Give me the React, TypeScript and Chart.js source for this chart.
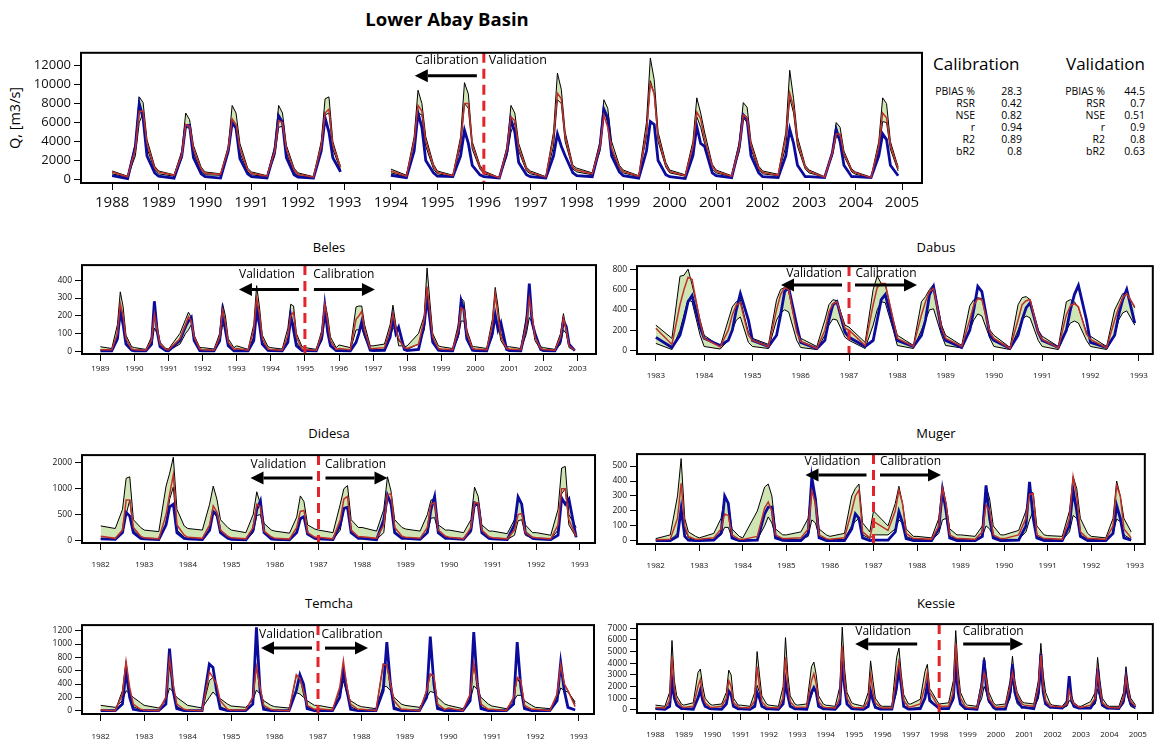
import React, { useEffect, useRef } from "react";
import { Chart, registerables } from "chart.js";
Chart.register(...registerables);

const FONT = "'Open Sans', 'DejaVu Sans', sans-serif";
const GREEN = "#cfe6b4";
const RED = "#c0302b";
const BLUE = "#0b0b9c";
const SPLIT_RED = "#e3242b";

// months sampled in every year (Jan, May, Jul, Aug, Sep, Oct, Dec)
const MONTHS = [1, 5, 7, 8, 9, 10, 12];

// ---------------- Lower Abay Basin ----------------
const TOP_YEARS = [1988, 1989, 1990, 1991, 1992, 1994, 1995, 1996, 1997, 1998, 1999, 2000, 2001, 2002, 2003, 2004];
const TOP_UP = [
  900, 350, 3800, 8700, 8100, 4200, 1400,
  900, 500, 3000, 7000, 6300, 3600, 1300,
  800, 600, 3500, 7800, 7000, 3800, 1200,
  800, 400, 3500, 7800, 7000, 3600, 1200,
  700, 300, 4000, 8500, 8700, 4000, 1300,
  1100, 450, 4500, 9400, 8000, 4500, 1600,
  900, 450, 4500, 10200, 9000, 4000, 1500,
  900, 200, 3500, 7800, 7000, 3800, 1300,
  900, 300, 5000, 11200, 9500, 5000, 1500,
  1200, 700, 4000, 8400, 7500, 4000, 1500,
  1000, 400, 6000, 12800, 10500, 5000, 1800,
  1000, 500, 4000, 8600, 7000, 5000, 1600,
  1000, 400, 4000, 8100, 7600, 4000, 1400,
  900, 550, 5000, 11500, 8500, 4500, 1500,
  1000, 300, 3000, 6000, 5500, 3000, 1100,
  800, 250, 4000, 8600, 8000, 4000, 1300,
];
const TOP_LO = [
  600, 250, 2500, 6000, 7000, 3300, 1000,
  600, 350, 2200, 5500, 5400, 2800, 900,
  500, 450, 2800, 5800, 5500, 2800, 800,
  500, 300, 2500, 5500, 5600, 2800, 800,
  400, 250, 3000, 6800, 7000, 3200, 1000,
  700, 300, 3200, 7000, 6800, 3500, 1100,
  600, 350, 3500, 8000, 7500, 3200, 1100,
  600, 150, 2500, 5000, 6000, 3000, 900,
  600, 250, 3500, 8400, 8000, 4000, 1100,
  800, 500, 3000, 7300, 6000, 3000, 1100,
  700, 300, 4500, 10400, 9000, 4000, 1300,
  700, 350, 3000, 6600, 5500, 3800, 1100,
  700, 300, 3000, 6500, 6000, 3200, 1000,
  600, 400, 3500, 8600, 7000, 3500, 1100,
  700, 250, 2500, 4500, 4300, 2500, 800,
  550, 200, 3000, 6100, 6000, 3200, 900,
];
const TOP_RED = [
  800, 300, 3200, 7200, 7200, 3800, 1200,
  800, 450, 2600, 5800, 5600, 3200, 1100,
  650, 550, 3200, 6400, 5800, 3300, 1000,
  650, 350, 3000, 6200, 6000, 3200, 1000,
  550, 250, 3500, 7000, 7400, 3600, 1300,
  900, 350, 4000, 7800, 7200, 4000, 1400,
  750, 400, 4000, 8000, 8000, 3700, 1300,
  750, 180, 3200, 6600, 6200, 3300, 1100,
  750, 250, 4500, 9100, 8500, 4500, 1300,
  1000, 600, 3500, 6800, 5500, 3300, 1300,
  850, 350, 5000, 10100, 9000, 4500, 1500,
  850, 400, 3500, 7100, 6400, 4300, 1400,
  850, 350, 3500, 6800, 6500, 3600, 1200,
  750, 450, 4500, 9100, 7600, 4000, 1300,
  850, 250, 2800, 4800, 4800, 2700, 950,
  700, 200, 3500, 7000, 6500, 3600, 1100,
];
const TOP_BLUE = [
  400, 100, 3500, 8000, 6500, 2500, 700,
  350, 150, 2500, 5700, 5700, 2300, 600,
  300, 150, 3000, 6000, 5400, 2200, 600,
  300, 150, 3000, 6700, 6000, 2300, 500,
  250, 150, 3000, 6500, 5000, 2300, 800,
  450, 200, 3000, 7000, 5500, 2000, 700,
  350, 300, 2500, 5200, 3800, 1500, 500,
  300, 150, 3000, 6300, 5000, 1800, 500,
  300, 150, 2500, 4800, 3500, 2500, 700,
  400, 300, 3500, 7400, 6500, 2500, 800,
  400, 150, 3000, 6100, 5800, 2000, 500,
  300, 100, 2500, 5600, 3800, 3500, 700,
  400, 200, 3500, 6800, 6300, 2500, 700,
  300, 200, 2500, 5300, 3800, 1500, 300,
  300, 200, 2800, 5300, 4000, 1500, 300,
  300, 200, 2500, 4800, 4200, 1500, 400,
];

// ---------------- Beles ----------------
const BELES_YEARS = [1989, 1990, 1991, 1992, 1993, 1994, 1995, 1996, 1997, 1998, 1999, 2000, 2001, 2002];
const BELES_UP = [
  25, 15, 150, 335, 250, 90, 25,
  20, 10, 80, 275, 140, 50, 15,
  12, 100, 180, 220, 190, 90, 20,
  20, 12, 100, 270, 200, 70, 20,
  30, 10, 150, 370, 250, 90, 25,
  20, 12, 130, 265, 255, 100, 25,
  20, 10, 120, 280, 200, 80, 20,
  35, 20, 250, 255, 255, 150, 30,
  30, 40, 150, 260, 150, 60, 25,
  30, 100, 200, 470, 280, 100, 30,
  25, 15, 150, 300, 280, 120, 25,
  25, 15, 180, 360, 250, 100, 25,
  25, 15, 200, 300, 200, 90, 25,
  20, 10, 100, 212, 130, 40, 10,
];
const BELES_LO = [
  5, 5, 60, 215, 180, 50, 8,
  3, 3, 30, 130, 100, 30, 5,
  3, 40, 100, 120, 150, 60, 5,
  3, 3, 50, 150, 130, 40, 5,
  5, 3, 80, 280, 180, 50, 6,
  5, 3, 60, 150, 160, 50, 6,
  5, 3, 60, 180, 140, 40, 5,
  5, 5, 120, 120, 130, 80, 8,
  8, 10, 80, 130, 130, 30, 30,
  10, 40, 120, 300, 200, 60, 8,
  5, 5, 80, 170, 170, 70, 8,
  5, 5, 80, 190, 150, 60, 8,
  5, 5, 100, 190, 160, 60, 8,
  5, 3, 40, 120, 100, 20, 3,
];
const BELES_RED = [
  8, 8, 100, 268, 200, 70, 12,
  8, 5, 60, 210, 120, 40, 10,
  8, 70, 150, 195, 170, 80, 12,
  8, 5, 80, 230, 160, 50, 10,
  15, 5, 120, 300, 210, 70, 12,
  10, 5, 90, 200, 220, 80, 12,
  10, 5, 100, 265, 170, 60, 10,
  15, 8, 180, 200, 225, 120, 15,
  15, 20, 120, 210, 130, 70, 20,
  15, 40, 180, 365, 220, 80, 15,
  12, 8, 120, 245, 230, 100, 15,
  12, 8, 150, 320, 200, 80, 15,
  12, 8, 150, 300, 200, 80, 15,
  10, 5, 80, 185, 120, 30, 5,
];
const BELES_BLUE = [
  2, 2, 70, 225, 150, 40, 5,
  2, 2, 40, 282, 110, 25, 3,
  2, 60, 140, 170, 190, 60, 3,
  2, 2, 60, 220, 120, 30, 2,
  3, 2, 60, 230, 150, 40, 4,
  3, 2, 50, 200, 120, 30, 3,
  3, 2, 80, 255, 110, 30, 3,
  3, 2, 50, 100, 165, 100, 5,
  3, 5, 80, 190, 100, 135, 10,
  3, 10, 150, 305, 180, 50, 5,
  3, 2, 100, 285, 230, 70, 5,
  3, 2, 100, 205, 120, 160, 10,
  3, 2, 150, 382, 160, 100, 10,
  3, 2, 60, 170, 140, 40, 3,
];

// ---------------- Dabus ----------------
const DABUS_YEARS = [1983, 1984, 1985, 1986, 1987, 1988, 1989, 1990, 1991, 1992];
const DABUS_UP = [
  250, 120, 730, 740, 800, 650, 300,
  150, 40, 300, 430, 480, 500, 180,
  120, 60, 500, 600, 620, 590, 200,
  120, 40, 300, 450, 500, 490, 250,
  230, 80, 600, 730, 660, 650, 300,
  150, 50, 480, 530, 600, 650, 250,
  150, 50, 440, 500, 520, 510, 200,
  150, 30, 450, 520, 530, 500, 200,
  140, 40, 480, 500, 480, 420, 180,
  140, 40, 400, 480, 560, 570, 420,
];
const DABUS_LO = [
  70, 10, 200, 350, 500, 480, 150,
  40, 15, 100, 200, 300, 330, 80,
  40, 20, 300, 370, 400, 380, 100,
  30, 10, 150, 250, 310, 300, 130,
  100, 20, 250, 400, 480, 470, 200,
  50, 20, 200, 300, 400, 410, 150,
  50, 25, 200, 300, 360, 340, 120,
  40, 10, 200, 300, 340, 320, 100,
  40, 10, 200, 270, 290, 270, 100,
  40, 10, 150, 300, 370, 390, 250,
];
const DABUS_RED = [
  220, 60, 450, 600, 720, 700, 280,
  120, 35, 200, 350, 450, 470, 150,
  100, 40, 400, 550, 620, 600, 180,
  90, 20, 200, 380, 460, 480, 220,
  200, 50, 450, 620, 660, 660, 300,
  120, 40, 350, 480, 580, 610, 220,
  120, 40, 300, 450, 510, 500, 180,
  120, 20, 300, 450, 490, 500, 180,
  110, 25, 350, 440, 460, 430, 160,
  110, 25, 300, 420, 520, 560, 430,
];
const DABUS_BLUE = [
  130, 30, 150, 300, 480, 540, 230,
  120, 50, 100, 200, 400, 560, 300,
  100, 40, 150, 350, 580, 620, 250,
  80, 20, 100, 300, 450, 480, 180,
  130, 40, 100, 300, 500, 550, 250,
  100, 40, 150, 300, 550, 630, 200,
  100, 30, 200, 400, 630, 580, 150,
  100, 20, 150, 300, 420, 470, 180,
  100, 30, 200, 400, 550, 640, 300,
  80, 30, 150, 350, 500, 600, 270,
];

// ---------------- Didesa ----------------
const DIDESA_YEARS = [1982, 1983, 1984, 1985, 1986, 1987, 1988, 1989, 1990, 1991, 1992];
const DIDESA_UP = [
  280, 230, 600, 1200, 1230, 400, 250,
  200, 170, 1050, 1300, 1610, 600, 280,
  230, 200, 700, 1050, 800, 400, 250,
  200, 150, 500, 940, 700, 330, 200,
  180, 140, 450, 860, 750, 300, 220,
  200, 150, 700, 1000, 1060, 400, 250,
  250, 180, 600, 1230, 950, 400, 250,
  220, 180, 500, 780, 800, 300, 200,
  200, 150, 400, 1030, 850, 300, 180,
  180, 130, 400, 800, 700, 300, 150,
  150, 100, 600, 1400, 1430, 500, 250,
];
const DIDESA_LO = [
  30, 20, 150, 500, 780, 200, 70,
  30, 20, 300, 800, 1030, 200, 60,
  30, 20, 200, 550, 450, 150, 50,
  30, 15, 150, 480, 500, 150, 50,
  25, 15, 150, 400, 450, 150, 50,
  30, 20, 200, 600, 640, 150, 50,
  40, 20, 150, 850, 700, 150, 60,
  40, 20, 150, 430, 440, 150, 60,
  40, 20, 150, 650, 700, 150, 50,
  30, 20, 100, 380, 400, 100, 40,
  30, 20, 200, 900, 1000, 300, 60,
];
const DIDESA_RED = [
  80, 40, 200, 780, 780, 250, 80,
  50, 30, 500, 900, 1270, 300, 100,
  60, 40, 300, 670, 550, 200, 80,
  50, 30, 250, 700, 650, 180, 70,
  40, 25, 250, 560, 580, 150, 60,
  60, 30, 400, 800, 850, 200, 70,
  70, 40, 300, 880, 900, 250, 80,
  60, 40, 250, 700, 730, 200, 80,
  60, 30, 250, 730, 720, 200, 70,
  50, 30, 200, 500, 520, 150, 60,
  50, 30, 300, 1000, 1000, 400, 80,
];
const DIDESA_BLUE = [
  30, 20, 150, 540, 470, 150, 40,
  30, 15, 300, 650, 700, 150, 40,
  30, 15, 200, 560, 500, 150, 40,
  20, 10, 200, 600, 765, 150, 30,
  20, 10, 150, 420, 460, 120, 40,
  30, 15, 300, 620, 640, 150, 40,
  40, 15, 400, 870, 700, 150, 40,
  40, 20, 150, 600, 850, 150, 40,
  40, 20, 200, 730, 700, 150, 40,
  30, 15, 300, 840, 700, 150, 40,
  30, 15, 100, 820, 700, 800, 60,
];
const DIDESA_YTICKS = [0, 500, 1000, 1500];
const DIDESA_YLABELS = ["0", "500", "1000", "2000"];

// ---------------- Muger ----------------
const MUGER_YEARS = [1982, 1983, 1984, 1985, 1986, 1987, 1988, 1989, 1990, 1991, 1992];
const MUGER_UP = [
  15, 40, 300, 550, 150, 60, 30,
  20, 50, 150, 290, 250, 80, 30,
  20, 200, 360, 380, 300, 80, 40,
  40, 60, 150, 390, 300, 80, 40,
  30, 50, 300, 350, 380, 120, 60,
  200, 100, 250, 365, 250, 80, 30,
  30, 20, 150, 375, 250, 80, 40,
  40, 30, 100, 370, 280, 100, 40,
  40, 70, 200, 330, 320, 100, 40,
  35, 30, 200, 430, 350, 150, 50,
  30, 20, 150, 400, 300, 150, 60,
];
const MUGER_LO = [
  5, 5, 50, 200, 80, 20, 5,
  5, 10, 40, 90, 90, 20, 5,
  5, 10, 100, 160, 120, 30, 10,
  10, 10, 30, 140, 120, 30, 10,
  8, 10, 100, 130, 150, 40, 15,
  40, 40, 80, 140, 120, 30, 10,
  10, 5, 50, 140, 150, 30, 10,
  10, 5, 30, 100, 80, 30, 10,
  10, 10, 60, 140, 200, 30, 10,
  10, 5, 60, 170, 150, 40, 10,
  10, 5, 50, 145, 130, 40, 10,
];
const MUGER_RED = [
  8, 10, 150, 385, 100, 30, 10,
  10, 20, 80, 180, 170, 40, 10,
  10, 30, 220, 260, 200, 40, 15,
  15, 20, 80, 335, 250, 40, 15,
  10, 20, 200, 300, 340, 60, 20,
  130, 70, 200, 340, 250, 50, 15,
  15, 10, 100, 350, 250, 40, 15,
  15, 10, 60, 240, 200, 40, 15,
  15, 40, 150, 310, 315, 40, 15,
  15, 10, 150, 430, 300, 60, 15,
  15, 10, 100, 370, 300, 80, 20,
];
const MUGER_BLUE = [
  2, 2, 30, 215, 30, 5, 2,
  2, 5, 50, 300, 250, 20, 2,
  2, 5, 180, 225, 225, 20, 3,
  2, 2, 50, 425, 280, 20, 2,
  2, 2, 80, 180, 150, 20, 2,
  5, 5, 60, 195, 120, 15, 2,
  2, 2, 80, 340, 200, 20, 2,
  2, 2, 30, 370, 150, 20, 2,
  2, 5, 100, 395, 150, 20, 2,
  2, 2, 100, 340, 200, 30, 2,
  2, 2, 50, 235, 150, 20, 5,
];

// ---------------- Temcha ----------------
const TEMCHA_YEARS = [1982, 1983, 1984, 1985, 1986, 1987, 1988, 1989, 1990, 1991, 1992];
const TEMCHA_UP = [
  80, 50, 150, 300, 250, 200, 120,
  80, 40, 150, 340, 280, 200, 120,
  80, 40, 200, 280, 220, 180, 100,
  70, 50, 150, 310, 250, 150, 80,
  60, 40, 270, 250, 200, 150, 80,
  80, 40, 200, 450, 250, 150, 80,
  60, 30, 370, 360, 300, 200, 100,
  80, 50, 200, 290, 270, 200, 100,
  80, 30, 150, 370, 320, 200, 100,
  70, 30, 150, 230, 230, 150, 80,
  50, 30, 150, 340, 300, 280, 130,
];
const TEMCHA_LO = [
  5, 0, 300, 740, 300, 60, 10,
  5, 0, 200, 700, 300, 60, 10,
  5, 0, 450, 500, 350, 60, 10,
  5, 5, 200, 660, 300, 50, 10,
  5, 0, 520, 500, 250, 60, 10,
  10, 5, 300, 700, 300, 60, 10,
  5, 0, 700, 700, 350, 60, 10,
  10, 0, 300, 550, 500, 60, 10,
  10, 0, 200, 700, 350, 60, 10,
  10, 0, 200, 480, 400, 50, 10,
  5, 0, 200, 650, 400, 300, 100,
];
const TEMCHA_RED = [
  10, 0, 250, 740, 350, 100, 20,
  10, 0, 200, 780, 400, 100, 20,
  10, 0, 580, 500, 400, 150, 20,
  10, 10, 200, 660, 350, 80, 20,
  10, 0, 540, 480, 300, 80, 20,
  30, 10, 350, 750, 350, 100, 20,
  20, 0, 700, 680, 400, 150, 20,
  20, 0, 300, 550, 520, 100, 20,
  40, 0, 250, 720, 400, 100, 20,
  20, 0, 200, 500, 450, 80, 20,
  20, 0, 250, 690, 400, 300, 60,
];
const TEMCHA_BLUE = [
  0, 0, 100, 600, 200, 20, 0,
  0, 0, 100, 930, 300, 30, 0,
  0, 0, 700, 650, 300, 30, 0,
  0, 0, 100, 1250, 300, 20, 0,
  0, 0, 300, 540, 400, 30, 0,
  0, 0, 200, 600, 300, 20, 0,
  0, 0, 300, 1030, 400, 30, 0,
  0, 0, 200, 1110, 400, 30, 0,
  0, 0, 150, 1180, 400, 30, 0,
  0, 0, 100, 1030, 350, 30, 0,
  0, 0, 150, 720, 300, 50, 10,
];

// ---------------- Kessie ----------------
const KESSIE_YEARS = [1988, 1989, 1990, 1991, 1992, 1993, 1994, 1995, 1996, 1997, 1998, 1999, 2000, 2001, 2002, 2003, 2004];
const KESSIE_UP = [
  400, 300, 1500, 5950, 2500, 1200, 500,
  400, 600, 3200, 3500, 2000, 1000, 500,
  400, 500, 1500, 3400, 3000, 1000, 400,
  400, 300, 1500, 5000, 3000, 1200, 500,
  400, 300, 2000, 6200, 3000, 1200, 500,
  400, 500, 3700, 4100, 3000, 1200, 500,
  400, 300, 2000, 7100, 3500, 1500, 600,
  500, 300, 1500, 4200, 2500, 1000, 400,
  300, 300, 4500, 5300, 3000, 1300, 500,
  500, 900, 3300, 3900, 1800, 1500, 800,
  500, 600, 2500, 6800, 3500, 1500, 600,
  400, 300, 2500, 4500, 3000, 1500, 600,
  400, 500, 2500, 4600, 2500, 1500, 700,
  600, 500, 2500, 5700, 3000, 1500, 500,
  400, 300, 800, 1800, 1200, 600, 300,
  300, 700, 1500, 4500, 2500, 1000, 400,
  300, 300, 1500, 3700, 2000, 1000, 400,
];
const KESSIE_LO = [
  100, 50, 300, 2500, 1200, 500, 150,
  100, 100, 1000, 1500, 800, 300, 100,
  100, 100, 500, 1500, 1200, 300, 100,
  100, 50, 400, 2100, 1500, 400, 100,
  100, 50, 500, 2500, 1500, 400, 100,
  100, 100, 1200, 1800, 1500, 400, 100,
  100, 50, 500, 4000, 2000, 500, 150,
  100, 50, 300, 1500, 1000, 300, 100,
  100, 50, 1500, 3300, 2000, 400, 100,
  100, 200, 1000, 2000, 1000, 700, 200,
  100, 100, 800, 4500, 2000, 500, 150,
  100, 50, 1000, 2000, 1500, 600, 200,
  100, 100, 1000, 2500, 1500, 500, 200,
  200, 150, 1000, 3000, 1500, 500, 200,
  200, 200, 300, 800, 600, 300, 200,
  100, 200, 500, 1800, 1000, 300, 100,
  100, 100, 500, 1700, 1000, 300, 100,
];
const KESSIE_RED = [
  200, 150, 800, 4500, 1800, 800, 300,
  200, 300, 2000, 2600, 1200, 600, 250,
  200, 300, 1000, 2500, 2000, 600, 250,
  200, 150, 800, 3700, 2000, 700, 250,
  200, 150, 1000, 4500, 2000, 700, 250,
  200, 250, 2500, 3100, 2200, 700, 250,
  200, 150, 1000, 5500, 2500, 1000, 300,
  200, 150, 800, 3000, 1500, 600, 250,
  150, 150, 3000, 4100, 2500, 800, 250,
  250, 500, 2000, 3200, 1500, 1200, 500,
  300, 300, 1500, 5700, 2500, 1000, 300,
  200, 150, 2000, 3200, 2500, 1000, 400,
  200, 300, 2000, 3200, 2200, 1200, 500,
  400, 300, 2000, 4700, 2000, 800, 300,
  300, 250, 500, 1700, 900, 500, 250,
  200, 400, 1000, 3300, 1800, 600, 250,
  200, 150, 1000, 2800, 1500, 700, 300,
];
const KESSIE_BLUE = [
  100, 50, 300, 2500, 1000, 400, 100,
  100, 50, 1000, 1700, 800, 300, 100,
  80, 50, 500, 1600, 1300, 300, 80,
  80, 50, 300, 1500, 1000, 300, 80,
  80, 50, 500, 2400, 1200, 300, 80,
  80, 50, 1500, 1900, 1500, 300, 80,
  80, 50, 500, 4200, 2000, 500, 100,
  80, 50, 300, 1600, 800, 200, 50,
  50, 50, 2000, 3600, 2000, 300, 50,
  50, 100, 1000, 2200, 800, 600, 300,
  100, 100, 1000, 4000, 1500, 500, 100,
  100, 50, 2000, 4300, 1800, 800, 200,
  50, 50, 1500, 3900, 1500, 800, 200,
  200, 100, 1500, 4800, 1500, 500, 200,
  200, 150, 500, 2900, 800, 300, 150,
  150, 150, 800, 3500, 1500, 400, 150,
  150, 100, 800, 2700, 1200, 500, 200,
];
const KESSIE_YLABELS = ["0", "1000", "2000", "3000", "4000", "5000", "6000", "7000"];

// ---------------- statistics ----------------
const STAT_NAMES = ["PBIAS %", "RSR", "NSE", "r", "R2", "bR2"];
const CAL_VALUES = ["28.3", "0.42", "0.82", "0.94", "0.89", "0.8"];
const VAL_VALUES = ["44.5", "0.7", "0.51", "0.9", "0.8", "0.63"];

const range = (a: number, b: number, s = 1) => {
  const out: number[] = [];
  for (let v = a; v <= b + 1e-9; v += s) out.push(v);
  return out;
};

function series(years: number[], vals: number[]) {
  const pts: { x: number; y: number | null }[] = [];
  years.forEach((yr, i) => {
    if (i > 0 && yr !== years[i - 1] + 1) pts.push({ x: years[i - 1] + 1, y: null });
    MONTHS.forEach((m, j) => pts.push({ x: yr + (m - 1) / 12, y: vals[i * MONTHS.length + j] }));
  });
  return pts;
}

type Ann = {
  split: number;
  texts: { t: string; dx: number; dy: number; align?: CanvasTextAlign }[];
  arrows: { x1: number; x2: number; dy: number }[];
  textSize: number;
};

type Panel = {
  key: string;
  box: [number, number, number, number]; // left, top, width, height of plot box
  axisW: number;
  axisH: number;
  xMin: number; xMax: number; yMin: number; yMax: number;
  xTicks: number[]; yTicks: number[]; yLabels?: string[];
  xFont: number; yFont: number; xPad: number;
  years: number[]; up: number[]; lo: number[]; red: number[]; blue: number[];
  ann: Ann;
};

const stdArrows = (l1: number, l2: number, r1: number, r2: number, dy: number) => [
  { x1: l1, x2: l2, dy },
  { x1: r1, x2: r2, dy },
];

const PANELS: Panel[] = [
  {
    key: "top", box: [81, 44, 841, 139], axisW: 81, axisH: 30,
    xMin: 1987.33, xMax: 2005.43, yMin: -365, yMax: 13341,
    xTicks: range(1988, 2005), yTicks: range(0, 12000, 2000), xFont: 15, yFont: 13, xPad: 4,
    years: TOP_YEARS, up: TOP_UP, lo: TOP_LO, red: TOP_RED, blue: TOP_BLUE,
    ann: {
      split: 1996, textSize: 12.5,
      texts: [{ t: "Calibration", dx: -37, dy: 8 }, { t: "Validation", dx: 5, dy: 8, align: "left" }],
      arrows: [{ x1: -7, x2: -69, dy: 23 }],
    },
  },
  {
    key: "beles", box: [82, 259, 514, 95], axisW: 60, axisH: 22,
    xMin: 1988.46, xMax: 2003.54, yMin: -16, yMax: 486,
    xTicks: range(1989, 2003), yTicks: range(0, 400, 100), xFont: 8, yFont: 8.5, xPad: 3,
    years: BELES_YEARS, up: BELES_UP, lo: BELES_LO, red: BELES_RED, blue: BELES_BLUE,
    ann: {
      split: 1995, textSize: 12,
      texts: [{ t: "Validation", dx: -38, dy: 9.5 }, { t: "Calibration", dx: 39, dy: 9.5 }],
      arrows: stdArrows(-6, -66, 9, 70, 24.5),
    },
  },
  {
    key: "dabus", box: [637, 260, 519, 94], axisW: 60, axisH: 30,
    xMin: 1982.61, xMax: 1993.29, yMin: -34, yMax: 830,
    xTicks: range(1983, 1993), yTicks: range(0, 800, 200), xFont: 8, yFont: 8.5, xPad: 10,
    years: DABUS_YEARS, up: DABUS_UP, lo: DABUS_LO, red: DABUS_RED, blue: DABUS_BLUE,
    ann: {
      split: 1987, textSize: 12,
      texts: [{ t: "Validation", dx: -35, dy: 7 }, { t: "Calibration", dx: 37, dy: 7 }],
      arrows: stdArrows(-7, -68, 6, 68, 19),
    },
  },
  {
    key: "didesa", box: [82, 449, 515, 94], axisW: 60, axisH: 30,
    xMin: 1981.57, xMax: 1993.35, yMin: -50, yMax: 1649,
    xTicks: range(1982, 1993), yTicks: DIDESA_YTICKS, yLabels: DIDESA_YLABELS, xFont: 8, yFont: 8.5, xPad: 10,
    years: DIDESA_YEARS, up: DIDESA_UP, lo: DIDESA_LO, red: DIDESA_RED, blue: DIDESA_BLUE,
    ann: {
      split: 1987, textSize: 12,
      texts: [{ t: "Validation", dx: -40, dy: 9 }, { t: "Calibration", dx: 37, dy: 9 }],
      arrows: stdArrows(-6, -68, 7, 69, 23),
    },
  },
  {
    key: "muger", box: [637, 448, 515, 96], axisW: 60, axisH: 30,
    xMin: 1981.57, xMax: 1993.23, yMin: -21, yMax: 580,
    xTicks: range(1982, 1993), yTicks: range(0, 500, 100), xFont: 8, yFont: 8.5, xPad: 10,
    years: MUGER_YEARS, up: MUGER_UP, lo: MUGER_LO, red: MUGER_RED, blue: MUGER_BLUE,
    ann: {
      split: 1987, textSize: 12,
      texts: [{ t: "Validation", dx: -41, dy: 7 }, { t: "Calibration", dx: 37, dy: 7 }],
      arrows: stdArrows(-7, -68, 6.5, 67.5, 21),
    },
  },
  {
    key: "temcha", box: [82, 619, 515, 95], axisW: 60, axisH: 27,
    xMin: 1981.57, xMax: 1993.35, yMin: -50, yMax: 1284,
    xTicks: range(1982, 1993), yTicks: range(0, 1200, 200), xFont: 8, yFont: 8.5, xPad: 11,
    years: TEMCHA_YEARS, up: TEMCHA_UP, lo: TEMCHA_LO, red: TEMCHA_RED, blue: TEMCHA_BLUE,
    ann: {
      split: 1987, textSize: 12,
      texts: [{ t: "Validation", dx: -31, dy: 9.5 }, { t: "Calibration", dx: 34, dy: 9.5 }],
      arrows: stdArrows(-6, -57, 7, 50, 23),
    },
  },
  {
    key: "kessie", box: [637, 618, 518, 95], axisW: 60, axisH: 28,
    xMin: 1987.35, xMax: 2005.53, yMin: -275, yMax: 7356,
    xTicks: range(1988, 2005), yTicks: range(0, 7000, 1000), yLabels: KESSIE_YLABELS, xFont: 8, yFont: 8.5, xPad: 10,
    years: KESSIE_YEARS, up: KESSIE_UP, lo: KESSIE_LO, red: KESSIE_RED, blue: KESSIE_BLUE,
    ann: {
      split: 1998, textSize: 12,
      texts: [{ t: "Validation", dx: -56, dy: 7 }, { t: "Calibration", dx: 54, dy: 7 }],
      arrows: stdArrows(-22, -84, 24, 84, 20),
    },
  },
];

const TITLES = [
  { t: "Beles", x: 329, y: 247 },
  { t: "Dabus", x: 936, y: 247 },
  { t: "Didesa", x: 329, y: 433 },
  { t: "Muger", x: 936, y: 433 },
  { t: "Temcha", x: 329, y: 603 },
  { t: "Kessie", x: 936, y: 603 },
];

function makeDeco(ann: Ann) {
  return {
    id: "deco",
    afterDatasetsDraw(chart: any) {
      const { ctx, chartArea: ca, scales } = chart;
      const sx = scales.x.getPixelForValue(ann.split);
      ctx.save();
      ctx.strokeStyle = SPLIT_RED;
      ctx.lineWidth = 3;
      ctx.setLineDash([10, 6]);
      ctx.beginPath();
      ctx.moveTo(sx, ca.top);
      ctx.lineTo(sx, ca.bottom);
      ctx.stroke();
      ctx.setLineDash([]);
      ctx.fillStyle = "#000";
      ctx.font = `${ann.textSize}px ${FONT}`;
      ctx.textBaseline = "middle";
      ann.texts.forEach((t) => {
        ctx.textAlign = t.align || "center";
        ctx.fillText(t.t, sx + t.dx, ca.top + t.dy);
      });
      ann.arrows.forEach((a) => {
        const y = ca.top + a.dy;
        const x1 = sx + a.x1;
        const x2 = sx + a.x2;
        const dir = x2 > x1 ? 1 : -1;
        const head = 13;
        ctx.strokeStyle = "#000";
        ctx.lineWidth = 3;
        ctx.beginPath();
        ctx.moveTo(x1, y);
        ctx.lineTo(x2 - dir * head, y);
        ctx.stroke();
        ctx.beginPath();
        ctx.moveTo(x2, y);
        ctx.lineTo(x2 - dir * head, y - 6.5);
        ctx.lineTo(x2 - dir * head, y + 6.5);
        ctx.closePath();
        ctx.fill();
      });
      ctx.restore();
    },
    afterDraw(chart: any) {
      const { ctx, chartArea: ca } = chart;
      ctx.save();
      ctx.strokeStyle = "#000";
      ctx.lineWidth = 2;
      ctx.strokeRect(ca.left, ca.top, ca.right - ca.left, ca.bottom - ca.top);
      ctx.restore();
    },
  };
}

function PanelChart({ p }: { p: Panel }) {
  const ref = useRef<HTMLCanvasElement>(null);
  const cw = p.axisW + p.box[2] + 2;
  const ch = 2 + p.box[3] + p.axisH;
  useEffect(() => {
    const canvas = ref.current;
    if (!canvas) return;
    const line = (vals: number[], color: string, width: number, order: number, fill: any) => ({
      data: series(p.years, vals),
      borderColor: color,
      borderWidth: width,
      pointRadius: 0,
      tension: 0,
      fill,
      backgroundColor: GREEN,
      order,
      spanGaps: false,
    });
    const chart = new Chart(canvas, {
      type: "line",
      data: {
        datasets: [
          line(p.up, "#000", 1, 3, "+1"),
          line(p.lo, "#000", 1, 2, false),
          line(p.blue, BLUE, 2.8, 1, false),
          line(p.red, RED, 1.5, 0, false),
        ],
      },
      options: {
        animation: false,
        responsive: false,
        maintainAspectRatio: false,
        layout: { padding: { left: 0, right: 2, top: 2, bottom: 0 } },
        plugins: {
          legend: { display: false },
          tooltip: { enabled: false },
          filler: { drawTime: "beforeDatasetsDraw" },
        },
        scales: {
          x: {
            type: "linear",
            min: p.xMin,
            max: p.xMax,
            afterBuildTicks: (s: any) => {
              s.ticks = p.xTicks.map((v) => ({ value: v }));
            },
            afterFit: (s: any) => {
              s.height = p.axisH;
            },
            ticks: {
              autoSkip: false,
              maxRotation: 0,
              minRotation: 0,
              padding: p.xPad,
              color: "#111",
              font: { family: FONT, size: p.xFont },
              callback: (v: any) => String(v),
            },
            grid: { drawOnChartArea: false, drawTicks: true, tickLength: 7, color: "#000", lineWidth: 1 },
            border: { display: false },
          },
          y: {
            type: "linear",
            min: p.yMin,
            max: p.yMax,
            afterBuildTicks: (s: any) => {
              s.ticks = p.yTicks.map((v) => ({ value: v }));
            },
            afterFit: (s: any) => {
              s.width = p.axisW;
            },
            ticks: {
              autoSkip: false,
              padding: 3,
              color: "#111",
              font: { family: FONT, size: p.yFont },
              callback: (v: any, i: number) => (p.yLabels ? p.yLabels[i] : String(v)),
            },
            grid: { drawOnChartArea: false, drawTicks: true, tickLength: 7, color: "#000", lineWidth: 1 },
            border: { display: false },
          },
        },
      } as any,
      plugins: [makeDeco(p.ann)],
    });
    return () => chart.destroy();
  }, []);
  return (
    <canvas
      ref={ref}
      width={cw}
      height={ch}
      style={{ position: "absolute", left: p.box[0] - p.axisW, top: p.box[1] - 2, width: cw, height: ch }}
    />
  );
}

function Txt(props: { x: number; y: number; size: number; anchor?: "left" | "center" | "right"; bold?: boolean; rotate?: boolean; children: any }) {
  const { x, y, size, anchor = "left", bold, rotate, children } = props;
  const tx = anchor === "left" ? "0" : anchor === "center" ? "-50%" : "-100%";
  return (
    <div
      style={{
        position: "absolute",
        left: x,
        top: y,
        transform: rotate ? `translate(-50%, -50%) rotate(-90deg)` : `translate(${tx}, -50%)`,
        fontFamily: FONT,
        fontSize: size,
        fontWeight: bold ? 700 : 400,
        lineHeight: 1,
        whiteSpace: "nowrap",
        color: "#000",
      }}
    >
      {children}
    </div>
  );
}

export default function App() {
  return (
    <div style={{ position: "absolute", left: 0, top: 0, width: 1157, height: 741, background: "#fff", overflow: "hidden" }}>
      <Txt x={447} y={19} size={18.5} anchor="center" bold>
        Lower Abay Basin
      </Txt>
      <Txt x={15} y={118} size={14.5} rotate>
        Q, [m3/s]
      </Txt>
      {PANELS.map((p) => (
        <PanelChart key={p.key} p={p} />
      ))}
      {TITLES.map((t) => (
        <Txt key={t.t} x={t.x} y={t.y} size={13} anchor="center">
          {t.t}
        </Txt>
      ))}
      <Txt x={933} y={63} size={17}>
        Calibration
      </Txt>
      <Txt x={1066} y={63} size={17}>
        Validation
      </Txt>
      {STAT_NAMES.map((n, i) => (
        <React.Fragment key={n}>
          <Txt x={975} y={91 + i * 12} size={10.5} anchor="right">{n}</Txt>
          <Txt x={1022} y={91 + i * 12} size={10.5} anchor="right">{CAL_VALUES[i]}</Txt>
          <Txt x={1105} y={91 + i * 12} size={10.5} anchor="right">{n}</Txt>
          <Txt x={1145} y={91 + i * 12} size={10.5} anchor="right">{VAL_VALUES[i]}</Txt>
        </React.Fragment>
      ))}
    </div>
  );
}
